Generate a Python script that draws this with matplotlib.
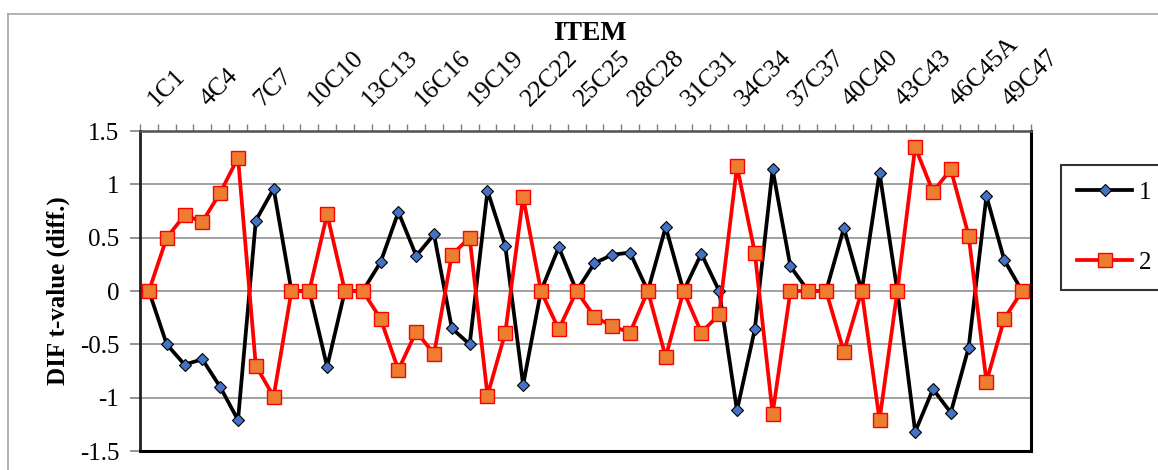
import matplotlib
matplotlib.use("Agg")
import matplotlib.pyplot as plt
from matplotlib.lines import Line2D

plt.rcParams['font.family'] = ['Liberation Serif', 'DejaVu Serif']

# Item identifiers (50 items); every third one is labelled on the axis
items = [f"{i}C{i}" for i in range(1, 46)] + ["46C45A", "47C45B", "48C46", "49C47", "50C48"]

# DIF t-value differences for the two groups
group1 = [0.00, -0.50, -0.69, -0.64, -0.90, -1.21, 0.66, 0.96, 0.00, 0.00,
          -0.71, 0.00, 0.00, 0.27, 0.74, 0.33, 0.53, -0.35, -0.50, 0.94,
          0.42, -0.88, 0.00, 0.41, 0.00, 0.26, 0.34, 0.36, 0.00, 0.60,
          0.00, 0.35, 0.00, -1.12, -0.36, 1.14, 0.23, 0.00, 0.00, 0.59,
          0.00, 1.11, 0.00, -1.32, -0.92, -1.14, -0.53, 0.89, 0.29, 0.00]
group2 = [0.00, 0.50, 0.71, 0.65, 0.92, 1.25, -0.70, -0.99, 0.00, 0.00,
          0.72, 0.00, 0.00, -0.26, -0.74, -0.38, -0.59, 0.34, 0.50, -0.98,
          -0.39, 0.88, 0.00, -0.36, 0.00, -0.24, -0.33, -0.39, 0.00, -0.62,
          0.00, -0.39, -0.22, 1.17, 0.36, -1.15, 0.00, 0.00, 0.00, -0.57,
          0.00, -1.21, 0.00, 1.35, 0.93, 1.14, 0.52, -0.85, -0.26, 0.00]
series_names = ["1", "2"]

y_ticks = [-1.5, -1.0, -0.5, 0.0, 0.5, 1.0, 1.5]
y_tick_labels = ["-1.5", "-1", "-0.5", "0", "0.5", "1", "1.5"]

W, H = 1158, 470
fig = plt.figure(figsize=(W / 100, H / 100), dpi=100)

# outer chart border (only top and left edges fall inside the canvas)
fig.add_artist(Line2D([8 / W, 8 / W], [0, 1 - 14 / H], transform=fig.transFigure,
                      color="#A6A6A6", lw=1.2))
fig.add_artist(Line2D([8 / W, 1], [1 - 14 / H, 1 - 14 / H], transform=fig.transFigure,
                      color="#A6A6A6", lw=1.2))

ax = fig.add_axes([140 / W, 1 - 451 / H, (1031 - 140) / W, (451 - 131) / H])

x = list(range(len(items)))
ax.plot(x, group1, color="black", lw=2.7, marker="D", ms=6.6,
        mfc="#4472C4", mec="black", mew=0.8, label=series_names[0], zorder=3)
ax.plot(x, group2, color="#FF0000", lw=2.7, marker="s", ms=9.4,
        mfc="#ED7D31", mec="#FF0000", mew=1.0, label=series_names[1], zorder=4)

ax.set_xlim(-0.5, len(items) - 0.5)
ax.set_ylim(-1.5, 1.5)

# horizontal gridlines
ax.set_yticks(y_ticks)
ax.set_yticklabels(y_tick_labels, fontsize=18)
ax.yaxis.grid(True, color="#A0A0A0", lw=1.4, zorder=0)
ax.set_axisbelow(True)
ax.tick_params(axis="y", direction="out", length=7, width=1.2, color="#808080", pad=8)

# category axis on top: boundary ticks plus rotated labels every third item
ax.xaxis.tick_top()
ax.set_xticks([i - 0.5 for i in range(len(items) + 1)])
ax.set_xticklabels([])
ax.tick_params(axis="x", which="major", direction="out", length=5, width=1.0,
               color="#808080")
for i in range(0, len(items), 3):
    ax.annotate(items[i], xy=(i, 1), xycoords=("data", "axes fraction"),
                xytext=(-4, 15), textcoords="offset points", rotation=45,
                ha="left", va="bottom", fontsize=18.5)

for side in ["bottom", "right"]:
    ax.spines[side].set_color("black")
    ax.spines[side].set_linewidth(2.2)
ax.spines["left"].set_color("#202020")
ax.spines["left"].set_linewidth(2.0)
ax.spines["top"].set_color("#505050")
ax.spines["top"].set_linewidth(1.8)

fig.text(590 / W, 1 - 33 / H, "ITEM", fontsize=20, fontweight="bold",
         ha="center", va="center")
fig.text(58 / W, 1 - 291 / H, "DIF t-value (diff.)", fontsize=18, fontweight="bold",
         rotation=90, ha="center", va="center")

leg = fig.legend(loc="upper left", bbox_to_anchor=(1061 / W, 1 - 165 / H),
                 bbox_transform=fig.transFigure, borderaxespad=0, fontsize=18,
                 frameon=True, fancybox=False, handlelength=2.2, handletextpad=0.25,
                 labelspacing=1.9, borderpad=0.65)
leg.get_frame().set_edgecolor("black")
leg.get_frame().set_linewidth(1.5)

fig.savefig("out.png", dpi=100)
